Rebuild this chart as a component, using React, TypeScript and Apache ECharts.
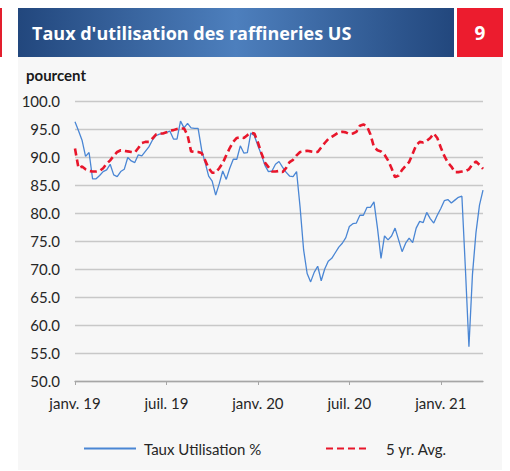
import React, { useEffect, useRef } from 'react';
import * as echarts from 'echarts';

// Weekly observations starting Friday 4 Jan 2019
const weekCount = 117;
const firstWeek = Date.UTC(2019, 0, 4);
const categories: string[] = Array.from({ length: weekCount }, (_, i) =>
  new Date(firstWeek + i * 7 * 86400000).toISOString().slice(0, 10)
);

const tauxUtilisation = [
  96.3, 94.7, 93.0, 90.1, 90.8, 86.1, 86.1, 86.7, 87.4, 87.7,
  88.7, 86.8, 86.5, 87.4, 87.8, 89.9, 89.3, 89.0, 90.4, 90.2,
  91.0, 91.8, 93.0, 93.8, 94.1, 94.2, 94.4, 94.6, 93.2, 93.2,
  96.4, 95.2, 96.0, 95.2, 95.1, 95.1, 91.3, 89.0, 86.6, 85.7,
  83.2, 85.2, 87.5, 86.0, 88.0, 89.6, 89.6, 92.0, 90.7, 90.8,
  94.3, 93.8, 92.0, 90.4, 88.5, 87.4, 87.5, 88.7, 89.2, 88.2,
  87.3, 86.6, 86.5, 87.4, 81.0, 73.4, 69.2, 67.7, 69.4, 70.5,
  67.9, 70.0, 71.4, 71.9, 72.9, 73.9, 74.6, 75.6, 77.6, 78.1,
  78.2, 79.6, 79.6, 81.0, 81.0, 82.0, 77.3, 71.9, 75.9, 75.2,
  75.9, 77.3, 75.2, 73.1, 74.6, 75.5, 74.7, 77.3, 78.5, 78.3,
  80.1, 79.0, 78.2, 79.6, 80.8, 82.2, 82.4, 81.8, 82.3, 82.8,
  83.0, 70.0, 56.1, 69.0, 76.5, 81.4, 84.1,
];

const moyenne5ans = [
  91.5, 88.0, 88.3, 87.8, 87.5, 87.4, 87.4, 87.5, 88.0, 88.8,
  89.4, 90.2, 90.9, 91.2, 91.1, 91.0, 90.9, 90.8, 91.6, 92.5,
  92.7, 92.7, 93.3, 94.0, 94.2, 94.2, 94.4, 94.7, 94.8, 95.0,
  95.1, 95.1, 93.9, 91.0, 90.9, 90.9, 90.7, 89.4, 88.0, 87.2,
  87.2, 88.0, 88.9, 90.3, 91.6, 92.7, 93.4, 93.5, 93.4, 93.9,
  94.3, 94.2, 92.6, 90.7, 89.0, 88.2, 87.4, 87.4, 87.5, 87.3,
  88.0, 89.1, 89.5, 90.3, 90.9, 91.0, 91.1, 91.0, 90.9, 90.9,
  91.7, 92.5, 93.2, 93.6, 94.0, 94.4, 94.5, 94.4, 94.1, 94.2,
  94.5, 95.6, 95.8, 95.5, 94.0, 91.8, 91.2, 91.0, 90.4, 89.4,
  88.0, 86.4, 86.7, 87.7, 88.4, 89.1, 90.6, 92.1, 92.7, 92.6,
  92.9, 93.4, 94.2, 93.4, 91.7, 90.2, 89.0, 88.3, 87.3, 87.3,
  87.4, 87.5, 87.8, 88.7, 89.2, 88.6, 87.9,
];

const monthNames: Record<number, string> = { 0: 'janv.', 6: 'juil.' };
const yTicks = { min: 50, max: 100, interval: 5 };

const isTick = (i: number) => {
  const d = new Date(categories[i]);
  const m = d.getUTCMonth();
  return (m === 0 || m === 6) && d.getUTCDate() <= 7;
};
const tickLabel = (v: string) => {
  const d = new Date(v);
  const name = monthNames[d.getUTCMonth()];
  return name ? `${name} ${String(d.getUTCFullYear()).slice(2)}` : '';
};

const FONT = 'Lato, "Open Sans", sans-serif';
const TITLE_FONT = '"Open Sans", Lato, sans-serif';

export default function App() {
  const ref = useRef<HTMLDivElement>(null);
  useEffect(() => {
    if (!ref.current) return;
    const chart = echarts.init(ref.current, undefined, { renderer: 'svg' });
    const gradient = new echarts.graphic.LinearGradient(0, 0, 1, 0, [
      { offset: 0, color: '#22477d' },
      { offset: 0.5, color: '#4d7fbd' },
      { offset: 1, color: '#22477d' },
    ]);
    chart.setOption({
      animation: false,
      backgroundColor: '#ffffff',
      textStyle: { fontFamily: FONT },
      graphic: [
        { type: 'rect', z: -10, shape: { x: 0, y: 8, width: 2, height: 49 }, style: { fill: '#e31e2d' } },
        { type: 'rect', z: -10, shape: { x: 18, y: 8, width: 436, height: 49 }, style: { fill: gradient } },
        { type: 'rect', z: -10, shape: { x: 457, y: 8, width: 46, height: 49 }, style: { fill: '#ec1c2e' } },
        { type: 'rect', z: -10, shape: { x: 18, y: 57, width: 484, height: 413 }, style: { fill: '#f7f7f7' } },
        {
          type: 'text', z: 10, x: 32, y: 33,
          style: { text: "Taux d'utilisation des raffineries US", fill: '#ffffff', font: `bold 18px ${TITLE_FONT}`, align: 'left', verticalAlign: 'middle' },
        },
        {
          type: 'text', z: 10, x: 480, y: 33,
          style: { text: '9', fill: '#ffffff', font: `bold 19px ${TITLE_FONT}`, align: 'center', verticalAlign: 'middle' },
        },
        {
          type: 'text', z: 10, x: 26, y: 75,
          style: { text: 'pourcent', fill: '#1a1a1a', font: `bold 15px ${FONT}`, align: 'left', verticalAlign: 'middle' },
        },
      ],
      grid: { left: 75, right: 27, top: 101, bottom: 90 },
      legend: [
        {
          data: ['Taux Utilisation %'], left: 78, top: 436, itemWidth: 52, itemHeight: 14, selectedMode: false,
          itemStyle: { opacity: 0 },
          textStyle: { fontSize: 15, color: '#262626', fontFamily: FONT, padding: [0, 0, 0, 3] },
        },
        {
          data: ['5 yr. Avg.'], left: 320, top: 436, itemWidth: 43, itemHeight: 14, selectedMode: false,
          itemStyle: { opacity: 0 },
          textStyle: { fontSize: 15, color: '#262626', fontFamily: FONT, padding: [0, 0, 0, 12] },
        },
      ],
      xAxis: {
        type: 'category',
        data: categories,
        boundaryGap: false,
        axisLine: { lineStyle: { color: '#a6a6a6', width: 1.3 } },
        axisTick: { interval: (i: number) => isTick(i), length: 4, lineStyle: { color: '#a6a6a6' } },
        axisLabel: {
          interval: (i: number) => isTick(i),
          formatter: (v: string) => tickLabel(v),
          margin: 14, fontSize: 15, color: '#262626', fontFamily: FONT,
        },
        splitLine: { show: false },
      },
      yAxis: {
        type: 'value',
        min: yTicks.min, max: yTicks.max, interval: yTicks.interval,
        axisLine: { show: false },
        axisTick: { show: false },
        axisLabel: { formatter: (v: number) => v.toFixed(1), margin: 15, fontSize: 15, color: '#262626', fontFamily: FONT },
        splitLine: { lineStyle: { color: '#c8c8c8', width: 1.3 } },
      },
      series: [
        {
          name: 'Taux Utilisation %', type: 'line', data: tauxUtilisation, symbol: 'none',
          lineStyle: { color: '#4a86d4', width: 1.3 }, itemStyle: { color: '#4a86d4' },
        },
        {
          name: '5 yr. Avg.', type: 'line', data: moyenne5ans, symbol: 'none',
          lineStyle: { color: '#e8162b', width: 2.6, type: [7, 4] }, itemStyle: { color: '#e8162b' },
        },
      ],
    });
    return () => chart.dispose();
  }, []);
  return <div ref={ref} style={{ position: 'absolute', left: 0, top: 0, width: 510, height: 471 }} />;
}
